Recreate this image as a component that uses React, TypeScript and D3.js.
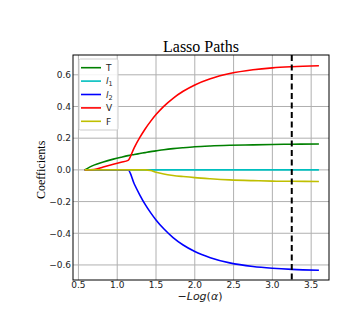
import React from "react";
import * as d3 from "d3";

// -log(alpha) sample points
const alphas = [0.58, 0.7, 0.82, 0.95, 1.05, 1.14, 1.22, 1.29, 1.36, 1.43, 1.5, 1.6, 1.72, 1.85, 2.0, 2.2, 2.45, 2.75, 3.0, 3.25, 3.6];

const coefT = [0, 0.03, 0.05, 0.068, 0.08, 0.09, 0.097, 0.103, 0.109, 0.115, 0.12, 0.127, 0.134, 0.14, 0.146, 0.151, 0.155, 0.158, 0.16, 0.162, 0.163];
const coefL1 = [0, 0, 0, 0, 0, 0, 0, 0, 0, 0, 0, 0, 0, 0, 0, 0, 0, 0, 0, 0, 0];
const coefL2 = [0, 0, 0, 0, 0, 0, -0.089, -0.157, -0.218, -0.27, -0.316, -0.372, -0.427, -0.474, -0.515, -0.554, -0.587, -0.61, -0.621, -0.628, -0.633];
const coefV = [0, 0.002, 0.018, 0.035, 0.048, 0.06, 0.141, 0.203, 0.258, 0.306, 0.349, 0.401, 0.452, 0.496, 0.536, 0.575, 0.608, 0.632, 0.644, 0.651, 0.657];
const coefF = [0, 0, 0, 0, 0, 0, 0, 0, 0, -0.004, -0.015, -0.026, -0.035, -0.042, -0.049, -0.056, -0.063, -0.068, -0.071, -0.072, -0.073];

const seriesNames = ["T", "l1", "l2", "V", "F"];
const seriesColors = ["#008000", "#00bfbf", "#0000ff", "#ff0000", "#bfbf00"];
const seriesValues = [coefT, coefL1, coefL2, coefV, coefF];

const xTicks = [0.5, 1.0, 1.5, 2.0, 2.5, 3.0, 3.5];
const yTicks = [-0.6, -0.4, -0.2, 0.0, 0.2, 0.4, 0.6];
const cutoff = 3.25;

const width = 364;
const height = 311;
const margin = { top: 55, right: 35, bottom: 31, left: 73 };

export default function App() {
  const x = d3.scaleLinear().domain([0.43, 3.73]).range([margin.left, width - margin.right]);
  const y = d3.scaleLinear().domain([-0.695, 0.725]).range([height - margin.bottom, margin.top]);

  const line = d3
    .line<[number, number]>()
    .x((d) => x(d[0]))
    .y((d) => y(d[1]))
    .curve(d3.curveMonotoneX);

  const tickFont = "DejaVu Sans, sans-serif";

  return (
    <svg width={width} height={height} style={{ position: "absolute", left: 0, top: 0, background: "#fff" }}>
      {/* grid */}
      {xTicks.map((t) => (
        <line key={"gx" + t} x1={x(t)} x2={x(t)} y1={margin.top} y2={height - margin.bottom} stroke="#b0b0b0" strokeWidth={1} />
      ))}
      {yTicks.map((t) => (
        <line key={"gy" + t} x1={margin.left} x2={width - margin.right} y1={y(t)} y2={y(t)} stroke="#b0b0b0" strokeWidth={1} />
      ))}

      {/* paths */}
      {seriesValues.map((vals, i) => (
        <path
          key={seriesNames[i]}
          d={line(alphas.map((a, j) => [a, vals[j]] as [number, number])) || ""}
          fill="none"
          stroke={seriesColors[i]}
          strokeWidth={1.6}
        />
      ))}

      {/* chosen alpha */}
      <line x1={x(cutoff)} x2={x(cutoff)} y1={margin.top} y2={height - margin.bottom} stroke="#000" strokeWidth={2} strokeDasharray="6,3.5" />

      {/* frame */}
      <rect x={margin.left} y={margin.top} width={width - margin.left - margin.right} height={height - margin.top - margin.bottom} fill="none" stroke="#000" strokeWidth={1} />

      {/* tick labels */}
      {xTicks.map((t) => (
        <text key={"tx" + t} x={x(t)} y={height - margin.bottom + 8} textAnchor="middle" fontFamily={tickFont} fontSize={9} fill="#222">
          {t.toFixed(1)}
        </text>
      ))}
      {yTicks.map((t) => (
        <text key={"ty" + t} x={margin.left - 2} y={y(t) + 3.3} textAnchor="end" fontFamily={tickFont} fontSize={9} fill="#222">
          {(t < 0 ? "\u2212" : "") + Math.abs(t).toFixed(1)}
        </text>
      ))}

      {/* title and axis labels */}
      <text x={201} y={52} textAnchor="middle" fontFamily="Liberation Serif, serif" fontSize={16}>
        Lasso Paths
      </text>
      <text x={200} y={299.5} textAnchor="middle" fontFamily={tickFont} fontSize={11} fill="#222">
        <tspan>{"\u2212"}</tspan>
        <tspan fontStyle="italic">Log</tspan>
        <tspan>(</tspan>
        <tspan fontStyle="italic">{"\u03b1"}</tspan>
        <tspan>)</tspan>
      </text>
      <text transform={`translate(45, ${y(0)}) rotate(-90)`} textAnchor="middle" fontFamily="Liberation Serif, serif" fontSize={12}>
        Coefficients
      </text>

      {/* legend */}
      <g transform="translate(79, 59)">
        <rect x={0} y={0} width={39} height={71} fill="#fff" fillOpacity={0.85} stroke="#ccc" strokeWidth={1} rx={1.5} />
        {seriesNames.map((name, i) => {
          const ly = 8.7 + i * 13.4;
          return (
            <g key={"lg" + name}>
              <line x1={2} x2={22} y1={ly} y2={ly} stroke={seriesColors[i]} strokeWidth={1.6} />
              <text x={27} y={ly + 3.3} fontFamily={tickFont} fontSize={9} fill="#222">
                {name.startsWith("l") ? (
                  <>
                    <tspan fontStyle="italic">l</tspan>
                    <tspan fontSize={6.5} dy={2}>{name.slice(1)}</tspan>
                  </>
                ) : (
                  name
                )}
              </text>
            </g>
          );
        })}
      </g>
    </svg>
  );
}
